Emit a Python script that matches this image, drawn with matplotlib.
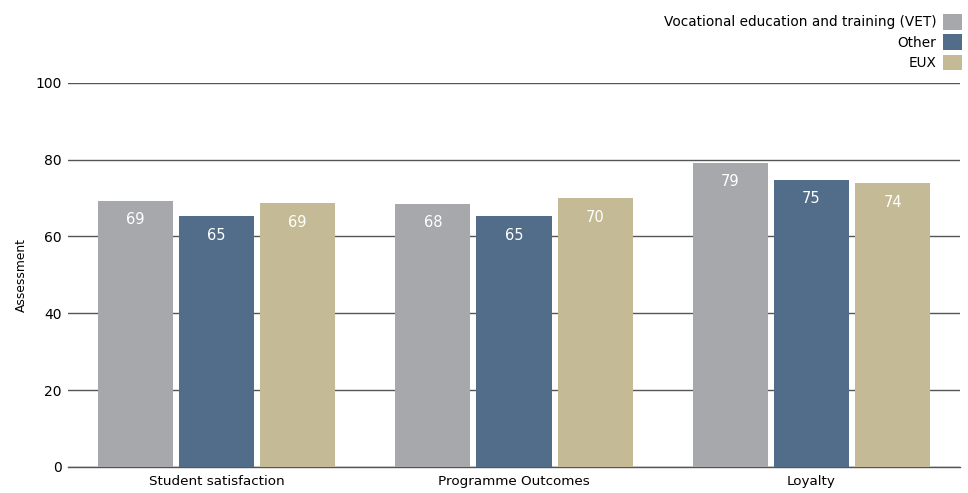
import numpy as np
import matplotlib.pyplot as plt

# -----------------------
# Data
# -----------------------
categories = ["Student satisfaction", "Programme Outcomes", "Loyalty"]
series_names = ["Vocational education and training (VET)", "Other", "EUX"]
vet = [69.3, 68.4, 79.2]
other = [65.2, 65.2, 74.6]
eux = [68.6, 69.9, 73.8]
colors = ["#A7A8AC", "#526D89", "#C4BB96"]

# -----------------------
# Plot
# -----------------------
fig = plt.figure(figsize=(9.68, 4.93), dpi=100)
ax = fig.add_axes([0.070, 0.053, 0.922, 0.779])

x = np.arange(len(categories))
width = 0.2525
step = 0.273

for i, (name, vals) in enumerate(zip(series_names, [vet, other, eux])):
    pos = x + (i - 1) * step
    bars = ax.bar(pos, vals, width=width, color=colors[i], label=name, zorder=3)
    for b, v in zip(bars, vals):
        ax.annotate(f"{v:.0f}", (b.get_x() + b.get_width() / 2, v),
                    xytext=(0, -8), textcoords="offset points",
                    ha="center", va="top", color="white", fontsize=10.5, zorder=4)

ax.set_xlim(-0.5, 2.5)
ax.set_ylim(0, 100)
ax.set_yticks(range(0, 101, 20))
ax.set_xticks(x)
ax.set_xticklabels(categories, fontsize=9.7)
ax.tick_params(axis="y", labelsize=10, length=0, pad=4.5)
ax.tick_params(axis="x", length=0, pad=6)
ax.yaxis.grid(True, color="#555555", linewidth=1, zorder=0)
ax.axhline(0, color="#555555", linewidth=1, zorder=1, clip_on=False)
ax.set_axisbelow(True)
for s in ax.spines.values():
    s.set_visible(False)
ax.set_ylabel("Assessment", fontsize=8.8, labelpad=5)

fig.legend(loc="upper right", bbox_to_anchor=(0.994, 0.972), markerfirst=False,
           frameon=False, fontsize=9.8, handlelength=1.4, handleheight=1.4,
           handletextpad=0.5, labelspacing=0.34, borderaxespad=0, borderpad=0)

plt.savefig("out.png", dpi=100)
